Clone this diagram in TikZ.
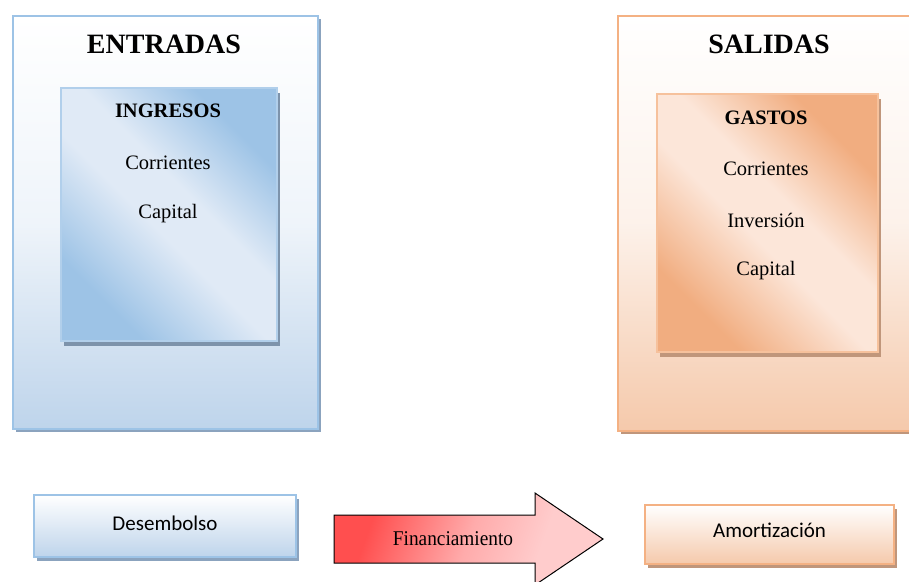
\documentclass[tikz,border=0pt]{standalone}
\usepackage{fontspec}
\setmainfont{Liberation Serif}
\newfontfamily\carlito{Carlito}
\usetikzlibrary{shadows}
\definecolor{entborder}{HTML}{9DC3E6}
\definecolor{entfill}{HTML}{BED4EB}
\definecolor{entdark}{HTML}{9DC3E6}
\definecolor{entlight}{HTML}{E0EAF6}
\definecolor{entshadow}{HTML}{8BA3BE}
\definecolor{salborder}{HTML}{F4B183}
\definecolor{salfill}{HTML}{F5C9AB}
\definecolor{saldark}{HTML}{F1AD80}
\definecolor{sallight}{HTML}{FCE6D9}
\definecolor{salshadow}{HTML}{C0967B}
\definecolor{arrred}{HTML}{FF4F4F}
\definecolor{arrmid}{HTML}{FFABAB}
\definecolor{arrpink}{HTML}{FFCCCC}
% sombreado en diagonal de las cajas interiores
\pgfdeclarehorizontalshading{diagent}{100bp}{color(0bp)=(entdark); color(27bp)=(entdark); color(46bp)=(entlight); color(56bp)=(entlight); color(73bp)=(entdark); color(100bp)=(entdark)}
\pgfdeclarehorizontalshading{diagsal}{100bp}{color(0bp)=(saldark); color(27bp)=(saldark); color(46bp)=(sallight); color(56bp)=(sallight); color(73bp)=(saldark); color(100bp)=(saldark)}
\pgfdeclarehorizontalshading{flecha}{100bp}{color(0bp)=(arrred); color(28bp)=(arrred); color(50bp)=(arrmid); color(66bp)=(arrpink); color(100bp)=(arrpink)}
\tikzset{
  caja/.style={rectangle, anchor=north west, inner sep=0pt, line width=2pt},
  outerent/.style={caja, draw=entborder, top color=white, bottom color=entfill, middle color=entfill!25,
    drop shadow={shadow xshift=3pt, shadow yshift=-3pt, fill=entshadow, opacity=1}},
  innerent/.style={caja, draw=entborder!80, shading=diagent, shading angle=45,
    drop shadow={shadow xshift=3pt, shadow yshift=-5pt, fill=entshadow!90!black, opacity=1}},
  outersal/.style={caja, draw=salborder, top color=white, bottom color=salfill, middle color=salfill!25,
    drop shadow={shadow xshift=3pt, shadow yshift=-3pt, fill=salshadow, opacity=1}},
  innersal/.style={caja, draw=salborder!80, shading=diagsal, shading angle=45,
    drop shadow={shadow xshift=3pt, shadow yshift=-5pt, fill=salshadow, opacity=1}},
  titulo/.style={font=\fontsize{28}{30}\selectfont\bfseries},
  subtitulo/.style={font=\fontsize{20.5}{22}\selectfont\bfseries},
  item/.style={font=\fontsize{20.5}{22}\selectfont},
  etiqueta/.style={font=\carlito\fontsize{21}{23}\selectfont},
}
\begin{document}
\begin{tikzpicture}[x=1pt,y=-1pt]
  \useasboundingbox (0,0) rectangle (909,581);
  % entradas
  \node[outerent, minimum width=305pt, minimum height=413pt] (entradas) at (12,15) {};
  \node[innerent, minimum width=216pt, minimum height=253pt] (ingresos) at (60,87) {};
  \node[titulo] (tent) at (164,44) {ENTRADAS};
  \node[subtitulo] (ting) at (168,111) {INGRESOS};
  \node[item] (ecorr) at (168,163) {Corrientes};
  \node[item] (ecap) at (168,214) {Capital};
  % salidas
  \node[outersal, minimum width=295pt, minimum height=415pt] (salidas) at (617,15) {};
  \node[innersal, minimum width=221pt, minimum height=258pt] (gastos) at (656,93) {};
  \node[titulo] (tsal) at (769,44) {SALIDAS};
  \node[subtitulo] (tgas) at (766,118) {GASTOS};
  \node[item] (scorr) at (766,169) {Corrientes};
  \node[item] (sinv) at (766,220) {Inversión};
  \node[item] (scap) at (766,271) {Capital};
  % abajo
  \node[caja, draw=entborder, top color=white, bottom color=entfill, minimum width=262pt, minimum height=62pt,
    drop shadow={shadow xshift=3pt, shadow yshift=-4pt, fill=entshadow, opacity=1}] (desem) at (33,494) {};
  \node[etiqueta] (tdesem) at (desem.center) [yshift=3pt] {Desembolso};
  \node[caja, draw=salborder, top color=white, bottom color=salfill, minimum width=249pt, minimum height=59pt,
    drop shadow={shadow xshift=3pt, shadow yshift=-4pt, fill=salshadow, opacity=1}] (amort) at (644,504) {};
  \node[etiqueta] (tamort) at (amort.center) [yshift=4pt] {Amortización};
  \shade[draw=black, line width=1pt, shading=flecha, shading angle=-20]
    (334,515) -- (535,515) -- (535,493) -- (603,539) -- (535,585) -- (535,563) -- (334,563) -- cycle;
  \node[font=\fontsize{21}{23}\selectfont, xscale=0.92] (finan) at (453,539) {Financiamiento};
\end{tikzpicture}
\end{document}
